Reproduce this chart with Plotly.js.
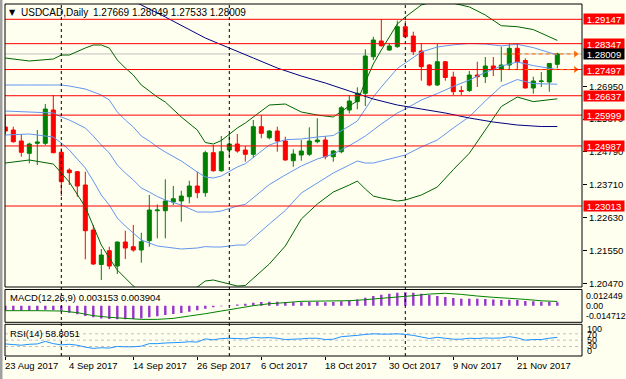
<!DOCTYPE html>
<html><head><meta charset="utf-8">
<script src="https://cdn.plot.ly/plotly-3.0.1.min.js"></script>
<style>html,body{margin:0;padding:0;background:#fffff0;}#chart{width:626px;height:379px;}</style>
</head><body><div id="chart"></div>
<script>
// ---------------- DATA ----------------
const symbolName = 'USDCAD,Daily';
const dates = ['2017-08-23','2017-08-24','2017-08-25','2017-08-28','2017-08-29','2017-08-30','2017-08-31',
'2017-09-01','2017-09-04','2017-09-05','2017-09-06','2017-09-07','2017-09-08','2017-09-11','2017-09-12','2017-09-13','2017-09-14','2017-09-15','2017-09-18','2017-09-19','2017-09-20','2017-09-21','2017-09-22','2017-09-25','2017-09-26','2017-09-27','2017-09-28','2017-09-29',
'2017-10-02','2017-10-03','2017-10-04','2017-10-05','2017-10-06','2017-10-09','2017-10-10','2017-10-11','2017-10-12','2017-10-13','2017-10-16','2017-10-17','2017-10-18','2017-10-19','2017-10-20','2017-10-23','2017-10-24','2017-10-25','2017-10-26','2017-10-27','2017-10-30','2017-10-31',
'2017-11-01','2017-11-02','2017-11-03','2017-11-06','2017-11-07','2017-11-08','2017-11-09','2017-11-10','2017-11-13','2017-11-14','2017-11-15','2017-11-16','2017-11-17','2017-11-20','2017-11-21','2017-11-22','2017-11-23','2017-11-24','2017-11-27','2017-11-28'];
const open  = [1.25609,1.25510,1.25149,1.24745,1.25073,1.25073,1.26167,1.24778,1.24196,1.24140,1.23703,1.22225,1.21092,1.21545,1.21042,1.21831,1.21676,1.21568,1.21874,1.22859,1.22859,1.23145,1.23178,1.23319,1.23671,1.23451,1.24765,1.24173,1.24853,1.25050,1.24853,1.24712,1.25619,1.25257,1.25477,1.25149,1.24502,1.24689,1.24712,1.25126,1.25182,1.24633,1.24797,1.26167,1.26440,1.26716,1.27918,1.28434,1.28138,1.28247,1.28904,1.28598,1.28106,1.27646,1.26989,1.27754,1.27251,1.26801,1.26808,1.27317,1.27261,1.27613,1.27498,1.27646,1.28194,1.27794,1.26890,1.27104,1.27087,1.27669];
const high  = [1.26003,1.25619,1.25379,1.25093,1.25510,1.26364,1.26660,1.24909,1.24252,1.24163,1.24140,1.22389,1.21601,1.21676,1.21841,1.22202,1.22389,1.22136,1.23375,1.23063,1.23891,1.23671,1.23516,1.23845,1.24140,1.24830,1.25018,1.25313,1.25379,1.25379,1.24985,1.25839,1.26003,1.25510,1.25619,1.25290,1.24876,1.25182,1.25599,1.25895,1.25313,1.24853,1.26299,1.26660,1.26913,1.28161,1.28575,1.29157,1.28359,1.29101,1.29101,1.28740,1.28359,1.27679,1.28336,1.27770,1.27426,1.26956,1.27449,1.27754,1.27909,1.27909,1.28247,1.28359,1.28359,1.27866,1.27261,1.27416,1.27702,1.28049];
const low   = [1.25379,1.25093,1.24633,1.24416,1.24360,1.25018,1.24745,1.23342,1.23703,1.23319,1.21263,1.21075,1.20582,1.20934,1.20780,1.21272,1.21512,1.21151,1.21676,1.21952,1.21952,1.23046,1.22498,1.23102,1.23267,1.23319,1.24140,1.24140,1.24633,1.24765,1.24469,1.24600,1.25238,1.25205,1.24797,1.24502,1.24305,1.24502,1.24656,1.25073,1.24548,1.24469,1.24745,1.26059,1.26190,1.26299,1.27810,1.28247,1.28115,1.28214,1.28523,1.27974,1.27130,1.26946,1.26956,1.27130,1.26660,1.26660,1.26759,1.26923,1.27054,1.27284,1.27097,1.27504,1.27491,1.26880,1.26703,1.26923,1.26769,1.27533];
const close = [1.25477,1.25126,1.24778,1.25050,1.25116,1.26200,1.24765,1.23812,1.24108,1.23671,1.22202,1.21108,1.21404,1.21042,1.21831,1.21634,1.21568,1.21841,1.22882,1.22882,1.23178,1.23253,1.23342,1.23671,1.23451,1.24765,1.24173,1.24797,1.25050,1.24820,1.24712,1.25619,1.25402,1.25477,1.25149,1.24525,1.24722,1.24820,1.25149,1.25182,1.24633,1.24820,1.26243,1.26463,1.26716,1.27941,1.28467,1.28280,1.28270,1.28904,1.28575,1.28083,1.27590,1.26989,1.27754,1.27235,1.26769,1.26782,1.27317,1.27261,1.27613,1.27498,1.27646,1.28194,1.27754,1.26890,1.27120,1.27120,1.27695,1.28009];

const tickIdx    = [0,8,16,24,32,40,48,56,64];
const tickLabels = ['23 Aug 2017','4 Sep 2017','14 Sep 2017','26 Sep 2017','6 Oct 2017','18 Oct 2017','30 Oct 2017','9 Nov 2017','21 Nov 2017'];
const priceTicks = [1.26950,1.25870,1.24790,1.23710,1.22630,1.21550,1.20470];
const levels     = [1.29147,1.28347,1.27497,1.26637,1.25999,1.24987,1.23013];
const bidPrice   = 1.28009;
const alertLevels = [1.28009,1.27497];

// Bollinger bands (20,2 green outer; 20,1 blue inner + middle)
const bandBars = [0,3,6,7,8,10,11,12,13,14,15,16,17,18,19,20,22,24,25,26,27,29,30,33,35,37,39,41,43,44,45,46,47,49,50,52,54,56,58,60,62,64,66,69];
const bbOuterUp = [1.27876,1.27777,1.27843,1.27974,1.27974,1.28204,1.28303,1.28303,1.28204,1.27810,1.27547,1.27317,1.26989,1.26792,1.26594,1.26430,1.25937,1.25510,1.25100,1.25050,1.25165,1.25576,1.25740,1.26332,1.26364,1.26102,1.26003,1.25937,1.26299,1.26463,1.27087,1.27679,1.28138,1.28993,1.29223,1.29617,1.29768,1.29676,1.29554,1.29288,1.28937,1.28904,1.28809,1.28454];
const bbInnerUp = [1.26989,1.26989,1.26989,1.26989,1.26956,1.26857,1.26759,1.26660,1.26496,1.26102,1.25839,1.25609,1.25313,1.25149,1.24952,1.24788,1.24492,1.24131,1.23966,1.23933,1.23999,1.24295,1.24403,1.25018,1.25192,1.25215,1.25280,1.25330,1.25642,1.25806,1.26200,1.26594,1.26923,1.27531,1.27711,1.28073,1.28237,1.28309,1.28352,1.28336,1.28273,1.28326,1.28217,1.27974];
const bbMiddle  = [1.26134,1.26102,1.26069,1.25937,1.25839,1.25576,1.25313,1.25018,1.24755,1.24360,1.24098,1.23868,1.23605,1.23473,1.23326,1.23211,1.23046,1.22816,1.22816,1.22816,1.22849,1.23013,1.23069,1.23717,1.24032,1.24328,1.24558,1.24722,1.24998,1.25149,1.25313,1.25510,1.25707,1.26069,1.26200,1.26496,1.26706,1.26943,1.27150,1.27403,1.27610,1.27744,1.27626,1.27495];
const bbInnerLo = [1.25346,1.25379,1.25280,1.25083,1.24853,1.24262,1.23835,1.23375,1.23046,1.22619,1.22356,1.22127,1.21897,1.21798,1.21699,1.21667,1.21601,1.21634,1.21680,1.21667,1.21667,1.21732,1.21732,1.22422,1.22866,1.23441,1.23769,1.24098,1.24360,1.24492,1.24426,1.24426,1.24492,1.24623,1.24689,1.24952,1.25182,1.25576,1.25947,1.26463,1.26946,1.27169,1.27035,1.27015];
const bbOuterLo = [1.24426,1.24525,1.24393,1.24098,1.23802,1.22981,1.22356,1.21732,1.21305,1.20911,1.20648,1.20385,1.20188,1.20123,1.20057,1.20057,1.20155,1.20353,1.20550,1.20583,1.20517,1.20385,1.20402,1.21108,1.21699,1.22586,1.23079,1.23473,1.23703,1.23835,1.23572,1.23342,1.23276,1.23178,1.23211,1.23375,1.23638,1.24209,1.24745,1.25510,1.26282,1.26594,1.26443,1.26535];

// long moving average (navy)
const maBars = [16,17,20,25,28,31,34,37,40,43,46,49,52,55,58,61,64,67,69];
const maVals = [1.29748,1.29617,1.29223,1.28533,1.28204,1.27876,1.27547,1.27284,1.27054,1.26792,1.26529,1.26332,1.26200,1.26069,1.25905,1.25773,1.25675,1.25625,1.25625];

// MACD(12,26,9)
const macdMain = [-0.0040,-0.0042,-0.0044,-0.0045,-0.0044,-0.0038,-0.0040,-0.0046,-0.0064,-0.0080,-0.0095,-0.0107,-0.0117,-0.0123,-0.0126,-0.0126,-0.0123,-0.0117,-0.0107,-0.0098,-0.0086,-0.0077,-0.0068,-0.0055,-0.0043,-0.0028,-0.0015,-0.0006,0.0003,0.0012,0.0018,0.0028,0.0034,0.0037,0.0037,0.0034,0.0031,0.0031,0.0034,0.0037,0.0031,0.0034,0.0040,0.0049,0.0058,0.0074,0.0089,0.0101,0.0111,0.0120,0.0123,0.0120,0.0111,0.0098,0.0089,0.0080,0.0071,0.0064,0.0064,0.0064,0.0061,0.0058,0.0052,0.0055,0.0052,0.0043,0.0040,0.0037,0.0037,0.003153];
const signalBars = [0,4,7,9,11,13,15,17,19,21,23,25,27,29,31,33,35,37,40,43,45,47,49,51,53,55,57,59,61,63,65,67,69];
const macdSignal = [-0.0046,-0.0046,-0.0049,-0.0064,-0.0092,-0.0107,-0.0117,-0.0126,-0.0126,-0.0117,-0.0095,-0.0074,-0.0049,-0.0025,0.0000,0.0018,0.0028,0.0040,0.0043,0.0046,0.0055,0.0068,0.0080,0.0092,0.0107,0.0114,0.0104,0.0089,0.0077,0.0068,0.0058,0.0045,0.003904];
const macdScaleText = ['0.012449','0.00','-0.014712'];

// RSI(14)
const rsi = [38,36,34,37,38,46,39,35,37,34,28,24,26,25,30,29,29,31,39,39,41,42,43,45,44,54,51,55,56,55,54,59,57,58,56,52,53,54,56,56,52,53,61,63,65,68,70,69,69,70,68,65,60,55,59,56,53,53,56,55,57,56,57,61,57,50,52,52,56,58.8051];
const rsiLevels = [70,50,30];
const rsiScaleText = ['100','70','50','30','0'];

// ---------------- LAYOUT HELPERS ----------------
const FONT = 'Liberation Sans, Arial, sans-serif';
const PL = 5, PR = 582, PT = 4, PB = 356;
const XR = [-0.0375, 72.0875];
const px = v => (v - PL) / (PR - PL);
const py = v => (PB - v) / (PB - PT);
const barToPaper = b => (b - XR[0]) / (XR[1] - XR[0]);
const idx = dates.map((d, i) => i);
const last = dates.length - 1;

const bull = '#008000', bear = '#ff0000';

const traces = [];
traces.push({type:'candlestick', x: idx, open, high, low, close, xaxis:'x', yaxis:'y',
  increasing:{line:{color:bull,width:1}, fillcolor:bull},
  decreasing:{line:{color:bear,width:1}, fillcolor:bear},
  whiskerwidth:0, hoverinfo:'skip', showlegend:false});
const lineTr = (xs, ys, color, yaxis, w) => ({type:'scatter', mode:'lines', x: xs, y: ys, xaxis:'x', yaxis: yaxis||'y',
  line:{color, width:w||1, simplify:false}, hoverinfo:'skip', showlegend:false});
traces.push(lineTr(bandBars, bbOuterUp, '#006400'));
traces.push(lineTr(bandBars, bbOuterLo, '#006400'));
traces.push(lineTr(bandBars, bbInnerUp, '#6495ed'));
traces.push(lineTr(bandBars, bbMiddle,  '#6495ed'));
traces.push(lineTr(bandBars, bbInnerLo, '#6495ed'));
traces.push(lineTr(maBars, maVals, '#000080'));
traces.push({type:'scatter', mode:'markers', x: alertLevels.map(() => 71.3), y: alertLevels, xaxis:'x', yaxis:'y',
  marker:{symbol:'triangle-right', size:6, color:'#ff6a00'}, hoverinfo:'skip', showlegend:false, cliponaxis:false});
// MACD: histogram + signal
traces.push({type:'bar', x: idx, y: macdMain, base: idx.map(() => 0), xaxis:'x', yaxis:'y2', width:0.3,
  marker:{color:'#9932cc', line:{width:0}}, hoverinfo:'skip', showlegend:false});
traces.push(lineTr(signalBars, macdSignal, '#008000', 'y2'));
// RSI
traces.push(lineTr(idx, rsi, '#1e90ff', 'y3'));

const shapes = [];
shapes.push({type:'rect', xref:'paper', yref:'paper', x0:px(0), x1:px(2.5), y0:py(379), y1:py(0), fillcolor:'#a0a0a0', line:{width:0}, layer:'below'});
levels.forEach(lv => shapes.push({type:'line', xref:'paper', yref:'y', x0:0, x1:1, y0:lv, y1:lv, line:{color:'#ff0000', width:1}}));
shapes.push({type:'line', xref:'paper', yref:'y', x0:0, x1:1, y0:bidPrice, y1:bidPrice, line:{color:'#c0c0c0', width:1}, layer:'below'});
alertLevels.forEach(lv => shapes.push({type:'line', xref:'x', yref:'y', x0:62.3, x1:71.2, y0:lv, y1:lv, line:{color:'#ff6a00', width:1, dash:'4px,3px'}}));
dates.forEach((d, i) => {
  if (i > 0 && d.slice(5,7) !== dates[i-1].slice(5,7)) {
    shapes.push({type:'line', xref:'x', yref:'paper', x0:i, x1:i, y0:0, y1:1, line:{color:'#000', width:1, dash:'3px,3px'}});
  }
});
rsiLevels.forEach(lv => shapes.push({type:'line', xref:'paper', yref:'y3', x0:0, x1:1, y0:lv, y1:lv, line:{color:'#c0c0c0', width:1, dash:'3px,3px'}, layer:'below'}));
[[287,PT],[322.3,289.5],[PB,324.3]].forEach(([b,t]) => shapes.push({type:'rect', xref:'paper', yref:'paper', x0:0, x1:1, y0:py(b), y1:py(t), line:{color:'#000', width:1}}));

const ann = [];
const txt = (x, y, text, opt) => Object.assign({xref:'paper', yref:'paper', x, y, text, showarrow:false, xanchor:'left', yanchor:'middle', borderpad:0, font:{family:FONT, size:9.5, color:'#000'}}, opt||{});
ann.push(txt(px(8), py(12.7), '▼', {font:{family:'DejaVu Sans', size:8, color:'#000'}}));
ann.push(txt(px(20), py(12.7), symbolName, {font:{family:FONT, size:10, color:'#000'}}));
ann.push(txt(px(91.5), py(12.7), [open[last],high[last],low[last],close[last]].map(v=>v.toFixed(5)).join(' '), {font:{family:FONT, size:10, color:'#000'}}));
ann.push(txt(px(9), py(297.5), 'MACD(12,26,9) ' + macdMain[last].toFixed(6) + ' ' + macdSignal[macdSignal.length-1].toFixed(6)));
ann.push(txt(px(9), py(333.3), 'RSI(14) ' + rsi[last].toFixed(4)));
levels.forEach(lv => ann.push({xref:'paper', yref:'y', x:px(582.6), y:lv, xanchor:'left', yanchor:'middle', text: lv.toFixed(5), showarrow:false,
  bgcolor:'#ff0000', font:{family:FONT, size:9.5, color:'#fff'}, width:40, height:10, borderpad:0, align:'center'}));
ann.push({xref:'paper', yref:'y', x:px(582.6), y:bidPrice, xanchor:'left', yanchor:'middle', text: bidPrice.toFixed(5), showarrow:false,
  bgcolor:'#000000', font:{family:FONT, size:9.5, color:'#fff'}, width:40, height:10, borderpad:0, align:'center'});
[296, 305.7, 316.3].forEach((y, i) => ann.push(txt(px(585), py(y), macdScaleText[i], {font:{family:FONT, size:8.8, color:'#000'}})));
[329, 334.5, 340, 345.5, 350.5].forEach((y, i) => ann.push(txt(px(586), py(y), rsiScaleText[i], {font:{family:FONT, size:9, color:'#000'}})));
tickIdx.forEach((b, i) => ann.push(txt(Math.max(px(4), barToPaper(b) - px(6.5) + px(5)), py(365), tickLabels[i])));

const layout = {
  width:626, height:379, margin:{l:PL, r:626-PR, t:PT, b:379-PB},
  paper_bgcolor:'#fffff0', plot_bgcolor:'#fffff0', showlegend:false,
  boxgap:0.5, boxgroupgap:0, barmode:'overlay', dragmode:false,
  xaxis:{range:XR, anchor:'y3', showgrid:false, zeroline:false, showline:false,
    tickvals:tickIdx, ticktext:tickIdx.map(()=>''), ticks:'outside', ticklen:3, tickcolor:'#000', rangeslider:{visible:false}, fixedrange:true},
  yaxis:{domain:[py(287), 1], range:[1.20353, 1.29650], side:'right', anchor:'x', showgrid:false, zeroline:false, showline:false,
    tickvals:priceTicks, ticktext:priceTicks.map(v=>v.toFixed(5)), ticks:'outside', ticklen:4, tickcolor:'#000',
    tickfont:{family:FONT, size:9.5, color:'#000'}, fixedrange:true},
  yaxis2:{domain:[py(322.3), py(289.5)], range:[-0.0153, 0.0149], autorange:false, anchor:'x', showgrid:false, zeroline:false, showticklabels:false, ticks:'', fixedrange:true},
  yaxis3:{domain:[0, py(324.3)], range:[0, 100], autorange:false, anchor:'x', showgrid:false, zeroline:false, showticklabels:false, ticks:'', fixedrange:true},
  shapes, annotations: ann
};
Plotly.newPlot('chart', traces, layout, {staticPlot:true, displayModeBar:false});
</script></body></html>
